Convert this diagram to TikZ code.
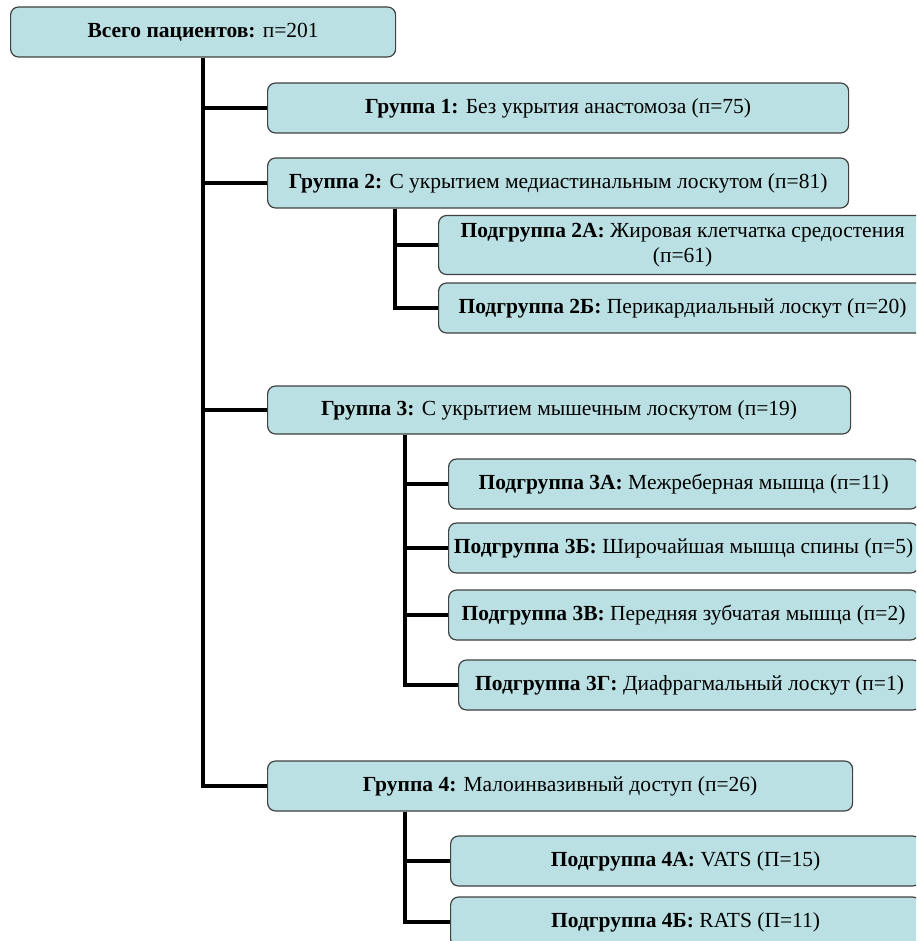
\documentclass[tikz,border=0pt]{standalone}
\usepackage{fontspec}
\setmainfont{Liberation Serif}
\definecolor{boxfill}{HTML}{BBE0E3}
\definecolor{boxline}{HTML}{404040}

\begin{document}
\begin{tikzpicture}[
  x=1pt, y=-1pt,
  box/.style={draw=boxline, fill=boxfill, rounded corners=8pt, line width=1.2pt, align=center,
    inner sep=2pt, font=\fontsize{21.5}{25}\selectfont, minimum height=50pt, anchor=west},
  link/.style={line width=3.6pt}
]
  \useasboundingbox (0,0) rectangle (916,941);
  \clip (0,0) rectangle (916,941);

  \node[box, minimum width=385pt] (root) at (10,32) {\textbf{Всего пациентов:} п=201};
  \node[box, minimum width=581pt] (g1) at (267,108) {\textbf{Группа 1:} Без укрытия анастомоза (п=75)};
  \node[box, minimum width=581pt] (g2) at (267,183) {\textbf{Группа 2:} С укрытием медиастинальным лоскутом (п=81)};
  \node[box, minimum width=488pt, minimum height=59pt] (g2a) at (438,245) {\textbf{Подгруппа 2А:} Жировая клетчатка средостения\\(п=61)};
  \node[box, minimum width=488pt] (g2b) at (438,308) {\textbf{Подгруппа 2Б:} Перикардиальный лоскут (п=20)};
  \node[box, minimum width=583pt, minimum height=48pt] (g3) at (267,410) {\textbf{Группа 3:} С укрытием мышечным лоскутом (п=19)};
  \node[box, minimum width=470pt] (g3a) at (448,484) {\textbf{Подгруппа 3А:} Межреберная мышца (п=11)};
  \node[box, minimum width=470pt] (g3b) at (448,548) {\textbf{Подгруппа 3Б:} Широчайшая мышца спины (п=5)};
  \node[box, minimum width=470pt] (g3c) at (448,615) {\textbf{Подгруппа 3В:} Передняя зубчатая мышца (п=2)};
  \node[box, minimum width=462pt] (g3d) at (458,685) {\textbf{Подгруппа 3Г:} Диафрагмальный лоскут (п=1)};
  \node[box, minimum width=585pt] (g4) at (267,786) {\textbf{Группа 4:} Малоинвазивный доступ (п=26)};
  \node[box, minimum width=470pt] (g4a) at (450,861) {\textbf{Подгруппа 4А:} VATS (П=15)};
  \node[box, minimum width=470pt] (g4b) at (450,922) {\textbf{Подгруппа 4Б:} RATS (П=11)};

  % main trunk
  \foreach \g in {g1,g2,g3,g4}
    \draw[link] (root.south) |- (\g.west);
  % sub branches
  \foreach \g in {g2a,g2b}
    \draw[link] ([xshift=128pt]g2.south west) |- (\g.west);
  \foreach \g in {g3a,g3b,g3c,g3d}
    \draw[link] ([xshift=138pt]g3.south west) |- (\g.west);
  \foreach \g in {g4a,g4b}
    \draw[link] ([xshift=138pt]g4.south west) |- (\g.west);
\end{tikzpicture}
\end{document}
